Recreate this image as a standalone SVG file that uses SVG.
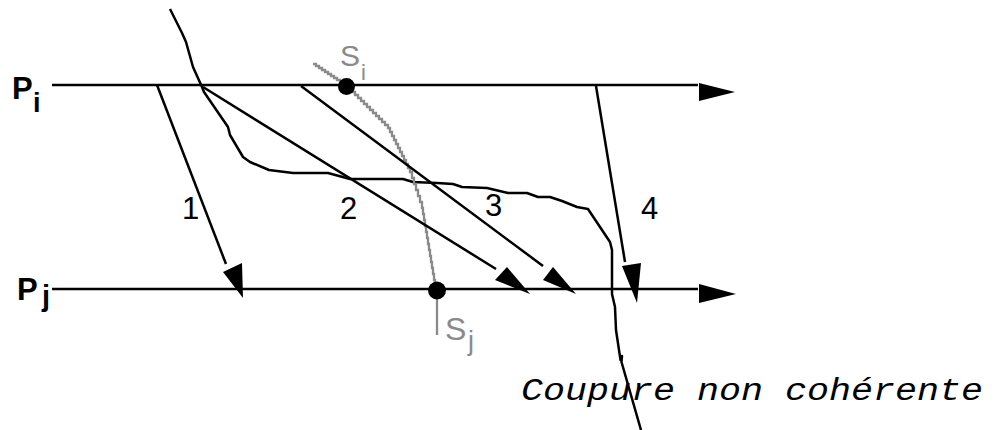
<svg xmlns="http://www.w3.org/2000/svg" width="999" height="430" viewBox="0 0 999 430">
<style>
.ln{stroke:#000;stroke-width:2.5;fill:none;stroke-linejoin:round}
.gr{stroke:#8a8a8a;stroke-width:2.3;fill:none}
.ah{fill:#000;stroke:none}
.lbl{font-family:"Liberation Sans",Arial,sans-serif;font-weight:bold;font-size:31px;fill:#000}
.num{font-family:"Liberation Sans",Arial,sans-serif;font-size:31px;fill:#000}
.sl{font-family:"Liberation Sans",Arial,sans-serif;font-size:30px;fill:#8a8a8a}
.mono{font-family:"Liberation Mono","Courier New",monospace;font-style:italic;font-size:31px;fill:#000}
</style>
<rect width="999" height="430" fill="#fff"/>
<g id="Pi">
<text class="lbl" x="12" y="99">P</text>
<text class="lbl" x="33" y="112" style="font-size:27px">i</text>
<line class="ln" x1="52" y1="85" x2="698" y2="85"/>
<polygon class="ah" points="699,83 699,101 735,92"/>
</g>
<g id="Pj">
<text class="lbl" x="17" y="300">P</text>
<text class="lbl" x="42" y="306" style="font-size:29px">j</text>
<line class="ln" x1="52" y1="289" x2="698" y2="289"/>
<polygon class="ah" points="699,284 699,303 736,294"/>
</g>
<g id="cut">
<polyline class="ln" points="170,9 182,33 186,42 193,67 202,87 204,92 228,127 230,135 243,157 250,162 269,170 293,173 328,173 350,179 403,179 413,182 437,183 453,184 462,187 487,188 508,193 527,193 538,197 550,197 562,201 577,207 588,209 610,242 612,250 612,294 615,307 616,330 620.5,360 622,356 621.5,362 641,430"/>
</g>
<g id="Si">
<path class="gr" d="M313,64 h3v2h3v2h3v2h3v2h3v2h3v2h3v2h3v2h3v2h3v2h3v2 h3v3h3v3h3v3h3v3h3v3h3v3h3v3h3v3h3v3h3v3h3v3h3v3h3v3h3v3 h2v4h2v4h2v4h2v4h2v4h2v4h2v4h2v4h2v4h2v4h2v4 h2v6h2v6h2v6h2v6h2v6h2v6 h1v6h1v6h1v6h1v6h1v6h1v6h1v6h1v6h1v6h1v6h1v6h1v6h1v6h1v6"/>
<circle cx="346.5" cy="86.5" r="8.5" fill="#000"/>
<text class="sl" x="340" y="66">S</text>
<text class="sl" x="361" y="80" style="font-size:22px">i</text>
</g>
<g id="Sj">
<line class="gr" x1="437" y1="292" x2="437" y2="335"/>
<circle cx="437" cy="290.5" r="9" fill="#000"/>
<text class="sl" x="445" y="340" style="font-size:32px">S</text>
<text class="sl" x="468" y="350" style="font-size:27px">j</text>
</g>
<g id="connectors">
<line class="ln" x1="157" y1="85" x2="226" y2="264"/>
<polygon class="ah" points="223,272 242,263 243,298"/>
<line class="ln" x1="203" y1="87" x2="496" y2="269"/>
<polygon class="ah" points="495,280 507,267 530,294"/>
<line class="ln" x1="301" y1="86" x2="543" y2="266"/>
<polygon class="ah" points="543,280 553,267 576,294"/>
<line class="ln" x1="596" y1="86" x2="625" y2="262"/>
<polygon class="ah" points="622,266 641,263 637,303"/>
</g>
<g id="labels">
<text class="num" x="182" y="219">1</text>
<text class="num" x="340" y="219">2</text>
<text class="num" x="485" y="216">3</text>
<text class="num" x="641" y="219">4</text>
</g>
<g id="caption">
<text class="mono" x="521" y="400" textLength="462" lengthAdjust="spacingAndGlyphs">Coupure non cohérente</text>
</g>
</svg>
